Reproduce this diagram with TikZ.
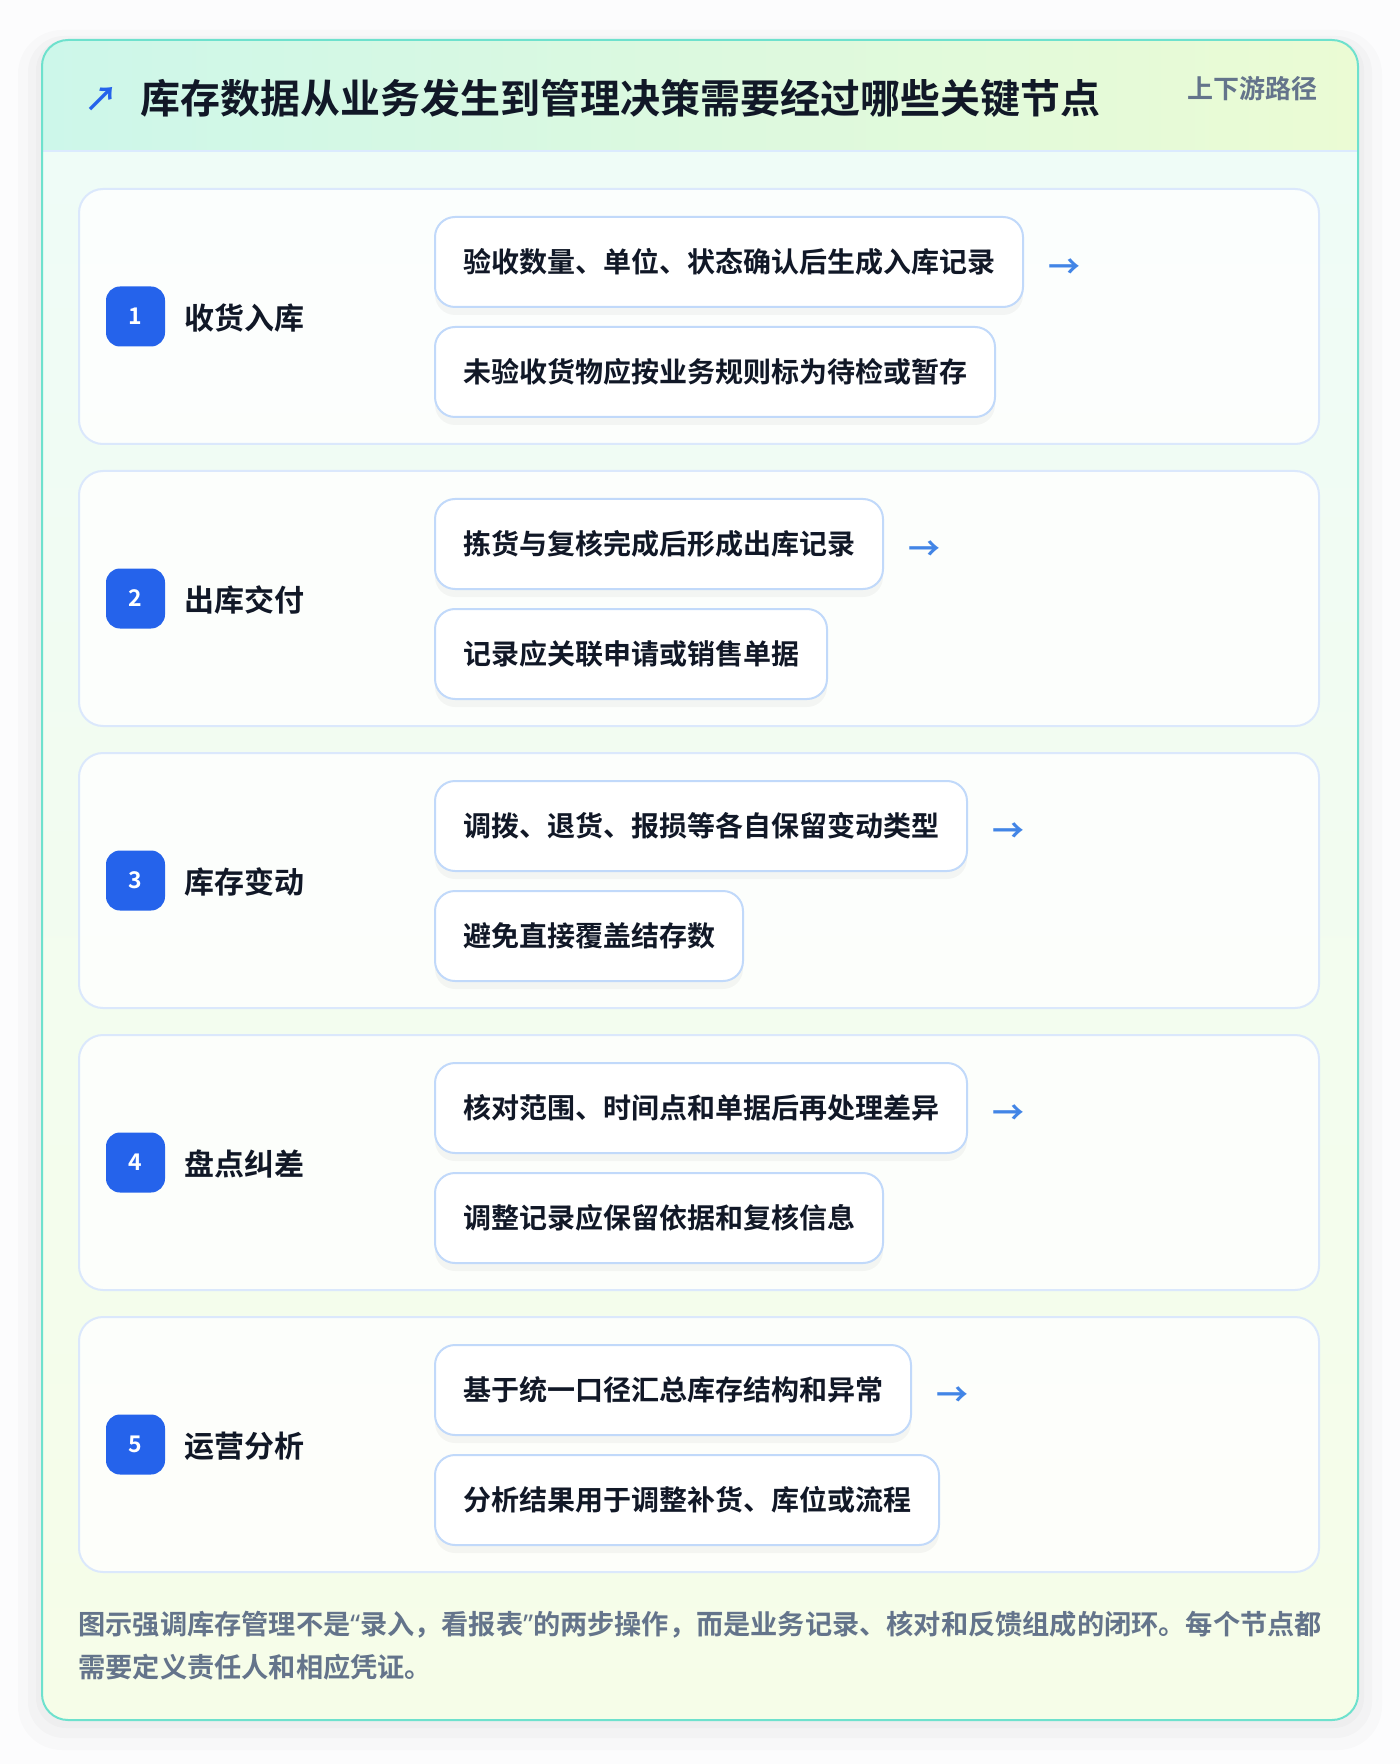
\documentclass[tikz,border=0pt]{standalone}
\usepackage{fontspec}
\setmainfont{Noto Sans CJK SC}[BoldFont={Noto Sans CJK SC Bold}]
\newfontfamily\latinq{Noto Sans}
\usetikzlibrary{positioning,shadows}
\definecolor{inv_page}{RGB}{252, 252, 253}
\definecolor{inv_teal}{RGB}{110, 225, 205}
\definecolor{inv_headl}{RGB}{205, 247, 234}
\definecolor{inv_headr}{RGB}{235, 251, 212}
\definecolor{inv_bodyt}{RGB}{239, 252, 247}
\definecolor{inv_bodyb}{RGB}{246, 253, 232}
\definecolor{inv_sep}{RGB}{219, 234, 254}
\definecolor{inv_rowline}{RGB}{219, 232, 252}
\definecolor{inv_boxline}{RGB}{193, 217, 250}
\definecolor{inv_blue}{RGB}{37, 99, 235}
\definecolor{inv_arrow}{RGB}{66, 133, 230}
\definecolor{inv_ink}{RGB}{17, 24, 39}
\definecolor{inv_gray}{RGB}{100, 116, 139}
\tikzstyle{row}=[rectangle,draw=inv_rowline,line width=1pt,fill=white,fill opacity=0.8,
  text opacity=1,rounded corners=12pt,minimum width=620pt,minimum height=127.5pt]
\tikzstyle{badge}=[rectangle,rounded corners=7pt,fill=inv_blue,text=white,inner sep=0pt,
  minimum width=29.5pt,minimum height=30pt,font=\bfseries\fontsize{11.5}{11.5}\selectfont]
\tikzstyle{lbl}=[anchor=west,inner sep=0pt,text=inv_ink,font=\bfseries\fontsize{15}{15}\selectfont]
\tikzstyle{item}=[rectangle,draw=inv_boxline,line width=1pt,fill=white,rounded corners=10pt,
  anchor=west,minimum height=45pt,inner xsep=14pt,inner ysep=0pt,text=inv_ink,
  font=\bfseries\fontsize{14}{14}\selectfont,
  drop shadow={shadow xshift=0pt,shadow yshift=-4pt,opacity=0.035,fill=black}]
\tikzstyle{nxt}=[inner sep=0pt,text=inv_arrow,font=\bfseries\fontsize{16}{16}\selectfont,yshift=-3.5pt]
\tikzstyle{none}=[]

\begin{document}
\begin{tikzpicture}[x=0.5pt, y=-0.5pt]
    \useasboundingbox (0, 0) rectangle (1400, 1764);
    \fill [inv_page] (0, 0) rectangle (1400, 1764);
    % card shadow
    \fill [black, opacity=0.015, rounded corners=22pt] (18, 30) rectangle (1382, 1750);
    \fill [black, opacity=0.02, rounded corners=18pt] (28, 36) rectangle (1372, 1738);
    \fill [black, opacity=0.02, rounded corners=15pt] (36, 40) rectangle (1364, 1728);
    % card
    \begin{scope}
        \clip [rounded corners=13pt] (42, 40) rectangle (1358, 1720);
        \shade [top color=inv_bodyt, bottom color=inv_bodyb] (42, 151) rectangle (1358, 1720);
        \shade [left color=inv_headl, right color=inv_headr] (42, 40) rectangle (1358, 151);
    \end{scope}
    \draw [inv_sep, line width=1pt] (43, 151) -- (1357, 151);
    \draw [inv_teal, line width=1pt, rounded corners=13pt] (42, 40) rectangle (1358, 1720);

    \node [style=none, anchor=west, inner sep=0pt, text=inv_blue, font=\bfseries\fontsize{17}{17}\selectfont] (t0) at (84, 99) {↗};
    \node [style=none, anchor=west, inner sep=0pt, text=inv_ink, font=\bfseries\fontsize{20}{20}\selectfont] (t1) at (140, 98) {库存数据从业务发生到管理决策需要经过哪些关键节点};
    \node [style=none, anchor=east, inner sep=0pt, text=inv_gray, font=\bfseries\fontsize{13}{13}\selectfont] (t2) at (1318, 89) {上下游路径};

    % step 1
    \node [style=row] (r1) at (699, 316.5) {};
    \node [style=badge] (b1) at (135.5, 316.5) {1};
    \node [style=lbl] (l1) at (184, 318) {收货入库};
    \node [style=item] (1a) at (434, 262) {验收数量、单位、状态确认后生成入库记录};
    \node [style=item] (1b) at (434, 372) {未验收货物应按业务规则标为待检或暂存};
    \node [style=nxt, right=12pt of 1a] (n1) {→};

    % step 2
    \node [style=row] (r2) at (699, 598.5) {};
    \node [style=badge] (b2) at (135.5, 598.5) {2};
    \node [style=lbl] (l2) at (184, 600) {出库交付};
    \node [style=item] (2a) at (434, 544) {拣货与复核完成后形成出库记录};
    \node [style=item] (2b) at (434, 654) {记录应关联申请或销售单据};
    \node [style=nxt, right=12pt of 2a] (n2) {→};

    % step 3
    \node [style=row] (r3) at (699, 880.5) {};
    \node [style=badge] (b3) at (135.5, 880.5) {3};
    \node [style=lbl] (l3) at (184, 882) {库存变动};
    \node [style=item] (3a) at (434, 826) {调拨、退货、报损等各自保留变动类型};
    \node [style=item] (3b) at (434, 936) {避免直接覆盖结存数};
    \node [style=nxt, right=12pt of 3a] (n3) {→};

    % step 4
    \node [style=row] (r4) at (699, 1162.5) {};
    \node [style=badge] (b4) at (135.5, 1162.5) {4};
    \node [style=lbl] (l4) at (184, 1164) {盘点纠差};
    \node [style=item] (4a) at (434, 1108) {核对范围、时间点和单据后再处理差异};
    \node [style=item] (4b) at (434, 1218) {调整记录应保留依据和复核信息};
    \node [style=nxt, right=12pt of 4a] (n4) {→};

    % step 5
    \node [style=row] (r5) at (699, 1444.5) {};
    \node [style=badge] (b5) at (135.5, 1444.5) {5};
    \node [style=lbl] (l5) at (184, 1446) {运营分析};
    \node [style=item] (5a) at (434, 1390) {基于统一口径汇总库存结构和异常};
    \node [style=item] (5b) at (434, 1500) {分析结果用于调整补货、库位或流程};
    \node [style=nxt, right=12pt of 5a] (n5) {→};

    \node [style=none, anchor=west, inner sep=0pt, align=left, text=inv_gray,
        font=\bfseries\fontsize{13.6}{21.5}\selectfont] (f0) at (78, 1645.5)
        {图示强调库存管理不是{\latinq“}录入，看报表{\latinq”}的两步操作，而是业务记录、核对和反馈组成的闭环。每个节点都\\需要定义责任人和相应凭证。};
\end{tikzpicture}
\end{document}
